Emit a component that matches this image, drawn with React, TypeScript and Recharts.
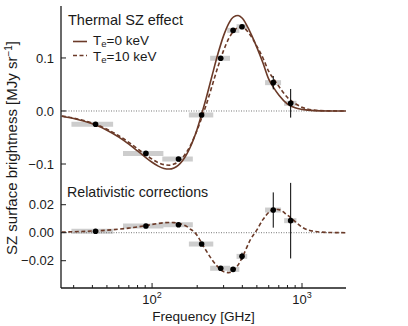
import React from 'react';
import { ComposedChart, Line, Scatter, ErrorBar, XAxis, YAxis, ReferenceLine } from 'recharts';

// model curves (GHz, MJy/sr)
const freq = [25, 30, 40, 50, 60, 70, 80, 90, 100, 110, 120, 130, 140, 150, 160, 170, 180, 190, 200, 217, 230, 250, 275, 300, 325, 350, 375, 400, 450, 500, 550, 600, 650, 700, 800, 900, 1000, 1200, 1500, 2000];
const tszCold = [-0.01, -0.0142, -0.0243, -0.0362, -0.0492, -0.0625, -0.0754, -0.087, -0.0967, -0.104, -0.1083, -0.1095, -0.1074, -0.102, -0.0934, -0.0819, -0.0679, -0.0517, -0.0338, 0, 0.0251, 0.0642, 0.1078, 0.1421, 0.1654, 0.1776, 0.1802, 0.175, 0.1493, 0.12, 0.09, 0.06, 0.043, 0.03, 0.013, 0.006, 0.003, 0.0006, 0.0001, 0];
const tszHot = [-0.0095, -0.0135, -0.0231, -0.0344, -0.0467, -0.0592, -0.0713, -0.082, -0.0908, -0.0974, -0.1012, -0.1022, -0.1002, -0.0953, -0.0876, -0.0774, -0.0654, -0.0509, -0.0358, -0.0085, 0.0121, 0.0452, 0.0833, 0.1143, 0.1368, 0.1506, 0.1572, 0.1575, 0.1438, 0.122, 0.0995, 0.0745, 0.0598, 0.0465, 0.0255, 0.014, 0.007, 0.0016, 0.0003, 0];
const relCorr = [0.0005, 0.0007, 0.0012, 0.0018, 0.0025, 0.0033, 0.0041, 0.005, 0.0059, 0.0066, 0.0071, 0.0073, 0.0072, 0.0067, 0.0058, 0.0045, 0.0025, 0.0008, -0.002, -0.0085, -0.013, -0.019, -0.0245, -0.0278, -0.0286, -0.027, -0.023, -0.0175, -0.0055, 0.002, 0.0095, 0.0145, 0.0168, 0.0165, 0.0125, 0.008, 0.004, 0.001, 0.0002, 0];

// band-averaged measurements
const bandCenter = [42, 91, 150, 214, 287, 347, 398, 643, 840];
const bandLow = [29, 64, 117, 176, 244, 317, 366, 567, 760];
const bandHigh = [55, 119, 187, 256, 331, 382, 431, 725, 918];
const tszPts = [-0.025, -0.08, -0.0906, -0.0075, 0.0994, 0.152, 0.159, 0.0534, 0.0145];
const tszErr = [0, 0, 0, 0, 0, 0, 0, 0.0126, 0.027];
const relPts = [0.001, 0.0048, 0.0057, -0.0081, -0.0254, -0.0262, -0.0169, 0.0162, 0.0086];
const relErr = [0, 0, 0, 0, 0, 0, 0.0026, 0.0126, 0.027];

const xTicks = [30, 40, 50, 60, 70, 80, 90, 100, 200, 300, 400, 500, 600, 700, 800, 900, 1000];
const topTicks = [-0.1, 0, 0.1];
const botTicks = [-0.02, 0, 0.02];

const X_DOMAIN = [24.7, 1965];
const INK = '#1a1a1a';
const BROWN = '#6b3a28';

const curves = freq.map((f, i) => ({ f, cold: tszCold[i], hot: tszHot[i], rel: relCorr[i] }));
const toPoints = (vals: number[], errs: number[]) =>
  bandCenter.map((f, i) => ({ f, v: vals[i], err: errs[i], bw: [f - bandLow[i], bandHigh[i] - f] }));
const tszData = toPoints(tszPts, tszErr);
const relData = toPoints(relPts, relErr);

const isMajor = (v: number) => v === 100 || v === 1000;

function BottomTick({ x, y, payload, labels }: any) {
  const major = isMajor(payload.value);
  return (
    <g>
      <line x1={x} x2={x} y1={y} y2={y - (major ? 5 : 3)} stroke={INK} strokeWidth={1} />
      {labels && major ? (
        <text x={x} y={y + 16} textAnchor="middle" fontSize={13} fill={INK}>
          10<tspan fontSize={9} dy={-6}>{payload.value === 100 ? '2' : '3'}</tspan>
        </text>
      ) : null}
    </g>
  );
}

function TopTick({ x, y, payload }: any) {
  const major = isMajor(payload.value);
  return <line x1={x} x2={x} y1={y} y2={y + (major ? 5 : 3)} stroke={INK} strokeWidth={1} />;
}

function LeftTick({ x, y, payload, digits }: any) {
  const label = payload.value.toFixed(digits).replace('-', '\u2212');
  return (
    <g>
      <line x1={x} x2={x + 5} y1={y} y2={y} stroke={INK} strokeWidth={1} />
      <text x={x - 7} y={y} dy="0.35em" textAnchor="end" fontSize={13} fill={INK}>{label}</text>
    </g>
  );
}

function RightTick({ x, y }: any) {
  return <line x1={x} x2={x - 5} y1={y} y2={y} stroke={INK} strokeWidth={1} />;
}

const dot = (p: any) => <circle cx={p.cx} cy={p.cy} r={2.8} fill="#000" />;
const noDot = () => <g />;

function Panel({ height, margin, yDomain, yTicks, digits, rows, pts, lines, xLabels }: any) {
  const axisLine = { stroke: INK, strokeWidth: 1.3 };
  return (
    <ComposedChart width={408} height={height} margin={margin} data={rows}>
      <XAxis xAxisId="b" dataKey="f" type="number" scale="log" domain={X_DOMAIN} allowDataOverflow
        ticks={xTicks} interval={0} height={xLabels ? 38 : 0} tickSize={0} tickMargin={0} tickLine={false}
        axisLine={axisLine} tick={(p: any) => <BottomTick {...p} labels={xLabels} />} />
      <XAxis xAxisId="t" orientation="top" type="number" scale="log" domain={X_DOMAIN} allowDataOverflow
        ticks={xTicks} interval={0} height={0} tickSize={0} tickMargin={0} tickLine={false}
        axisLine={axisLine} tick={xLabels ? false : (p: any) => <TopTick {...p} />} />
      <YAxis yAxisId="l" type="number" domain={yDomain} allowDataOverflow ticks={yTicks} interval={0}
        width={61} tickSize={0} tickMargin={0} tickLine={false} axisLine={axisLine}
        tick={(p: any) => <LeftTick {...p} digits={digits} />} />
      <YAxis yAxisId="r" orientation="right" type="number" domain={yDomain} allowDataOverflow ticks={yTicks}
        interval={0} width={0} tickSize={0} tickMargin={0} tickLine={false} axisLine={axisLine}
        tick={(p: any) => <RightTick {...p} />} />
      <Scatter xAxisId="b" yAxisId="l" data={pts} dataKey="v" shape={noDot} isAnimationActive={false}>
        <ErrorBar dataKey="bw" direction="x" width={0} stroke="#cdcdcd" strokeWidth={5} />
      </Scatter>
      <ReferenceLine xAxisId="b" yAxisId="l" y={0} stroke="#777" strokeWidth={1} strokeDasharray="1 1.5" />
      {lines.map((l: any) => (
        <Line key={l.key} xAxisId="b" yAxisId="l" dataKey={l.key} type="monotone" stroke={BROWN}
          strokeWidth={1.6} strokeDasharray={l.dash} dot={false} isAnimationActive={false} />
      ))}
      <Scatter xAxisId="b" yAxisId="l" data={pts} dataKey="v" shape={dot} isAnimationActive={false}>
        <ErrorBar dataKey="err" direction="y" width={0} stroke="#000" strokeWidth={1} />
      </Scatter>
    </ComposedChart>
  );
}

// legend rows as html so the line boxes stay tight
function LegendRow({ top, value }: any) {
  return (
    <div style={{ position: 'absolute', left: 93, top, height: 13, lineHeight: '13px', fontSize: 13.5,
      color: INK, whiteSpace: 'nowrap' }}>
      T<span style={{ fontSize: 9.5, position: 'relative', top: 2, lineHeight: '9px' }}>e</span>{value}
    </div>
  );
}

export default function App() {
  return (
    <div style={{ position: 'absolute', left: 0, top: 0, width: 408, height: 326, background: '#fff',
      fontFamily: '"Liberation Sans", Arial, Helvetica, sans-serif' }}>
      <div style={{ position: 'absolute', left: 0, top: 0 }}>
        <Panel height={177} margin={{ top: 6, right: 62, bottom: 0, left: 0 }}
          yDomain={[-0.1245, 0.198]} yTicks={topTicks} digits={1} rows={curves} pts={tszData}
          lines={[{ key: 'cold' }, { key: 'hot', dash: '4 2.5' }]} xLabels={false} />
      </div>
      <div style={{ position: 'absolute', left: 0, top: 177 }}>
        <Panel height={149} margin={{ top: 0, right: 62, bottom: 0, left: 0 }}
          yDomain={[-0.0395, 0.0398]} yTicks={botTicks} digits={2} rows={curves} pts={relData}
          lines={[{ key: 'rel', dash: '4 2.5' }]} xLabels={true} />
      </div>
      <svg width={408} height={326} style={{ position: 'absolute', left: 0, top: 0, pointerEvents: 'none' }}>
        <text x={68} y={25} fontSize={14.5} fill={INK}>Thermal SZ effect</text>
        <line x1={73} x2={87} y1={41.5} y2={41.5} stroke={BROWN} strokeWidth={1.6} />
        <line x1={73} x2={87} y1={55.5} y2={55.5} stroke={BROWN} strokeWidth={1.6} strokeDasharray="4 2.5" />
        <text x={67} y={196.5} fontSize={14.2} fill={INK}>Relativistic corrections</text>
        <text x={203.5} y={321} textAnchor="middle" fontSize={13.6} fill={INK}>Frequency [GHz]</text>
        <text transform="translate(17,148) rotate(-90)" textAnchor="middle" fontSize={15} fill={INK}>
          SZ surface brightness [MJy sr<tspan fontSize={10} dy={-5}>{'\u22121'}</tspan><tspan dy={5}>]</tspan>
        </text>
      </svg>
      <LegendRow top={34.3} value="=0 keV" />
      <LegendRow top={49.7} value="=10 keV" />
    </div>
  );
}
